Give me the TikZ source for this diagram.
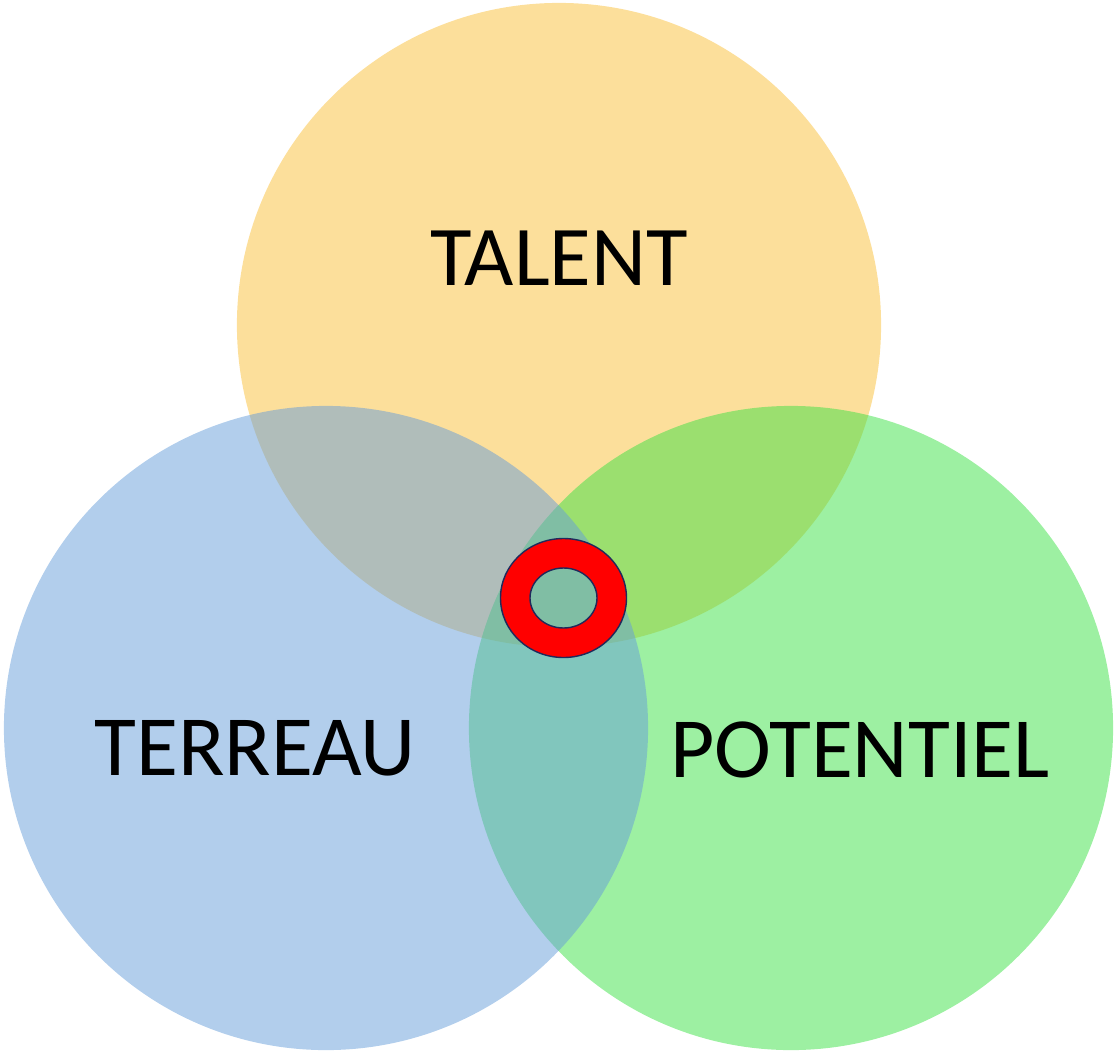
\documentclass[tikz,border=0pt]{standalone}
\usepackage{fontspec}
\setmainfont{Carlito}
\usepackage{tikz}
\usetikzlibrary{shapes.geometric, positioning, calc}
\definecolor{SunYellow}{HTML}{FABF38}
\definecolor{SoilBlue}{HTML}{659DD9}
\definecolor{LeafGreen}{HTML}{3BE145}
\definecolor{RingRed}{HTML}{FF0000}
\definecolor{RingNavy}{HTML}{1F2A5C}

\begin{document}
\begin{tikzpicture}[x=0.025cm, y=-0.025cm,
    venn/.style={circle, minimum size=16.1cm, inner sep=0pt, fill opacity=0.5},
    lbl/.style={anchor=base, text=black, font=\fontsize{#1}{#1}\selectfont}]
\useasboundingbox (0,0) rectangle (1114,1054);
% three sets
\node[venn, fill=SunYellow]  (talent)    at (559,325) {};
\node[venn, fill=LeafGreen]  (potentiel) at (791,728) {};
\node[venn, fill=SoilBlue]   (terreau)   at (326,728) {};
% labels
\node[lbl=60.5pt] (talentlbl)    at (559,285) {TALENT};
\node[lbl=61pt]   (terreaulbl)   at (255,775) {TERREAU};
\node[lbl=61pt]   (potentiellbl) at (860,777) {POTENTIEL};
% ring at the common part
\fill[RingRed, even odd rule, draw=RingNavy, line width=1pt]
    (563.5,598) ellipse [x radius=63, y radius=59.5]
    (563.5,598) ellipse [x radius=33.5, y radius=30];
\end{tikzpicture}
\end{document}
